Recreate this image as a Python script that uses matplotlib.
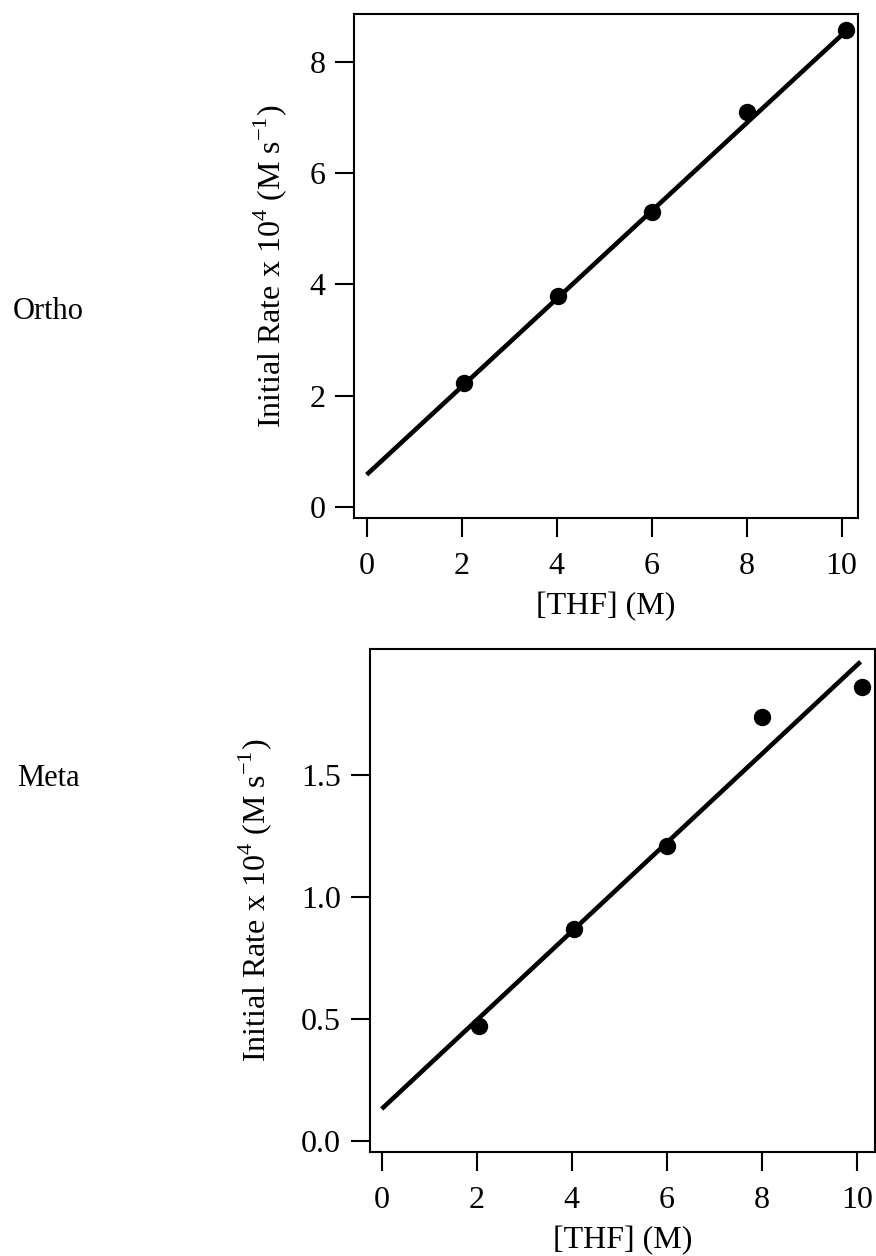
import numpy as np
import matplotlib
matplotlib.use("Agg")
import matplotlib.pyplot as plt

# data
thf = [2.05, 4.03, 6.0, 8.0, 10.1]
ortho_rate = [2.22, 3.80, 5.30, 7.10, 8.58]
meta_thf = [2.05, 4.05, 6.0, 8.01, 10.12]
meta_rate = [0.47, 0.87, 1.21, 1.74, 1.86]

# fitted lines (intercept, slope, x-range) as drawn
ortho_fit = (0.58, 0.79, [0.0, 10.1])
meta_fit = (0.13, 0.182, [0.0, 10.08])

plt.rcParams['font.family'] = ['Liberation Serif', 'DejaVu Serif']
plt.rcParams['mathtext.fontset'] = 'custom'
plt.rcParams['mathtext.rm'] = 'Liberation Serif'
plt.rcParams['font.size'] = 23

fig = plt.figure(figsize=(8.76, 12.56), dpi=100)

ylab = r'Initial Rate x 10$^\mathregular{4}$ (M s$^\mathregular{-1}$)'

def panel(rect, x, y, fit, xlim, ylim, yticks, yfmt, name, name_y, ylab_x):
    ax = fig.add_axes(rect)
    ax.plot(x, y, 'o', color='black', markersize=11.5, zorder=3)
    b, m, xr = fit
    xr = np.array(xr)
    ax.plot(xr, b + m * xr, '-', color='black', lw=3.3, solid_capstyle='butt')
    ax.set_xlim(*xlim)
    ax.set_ylim(*ylim)
    ax.set_xticks([0, 2, 4, 6, 8, 10])
    ax.set_yticks(yticks)
    ax.set_yticklabels([yfmt % v for v in yticks])
    for s in ax.spines.values():
        s.set_linewidth(1.5)
    ax.tick_params(direction='out', length=13.5, width=1.5, pad=7)
    ax.tick_params(axis='x', pad=11)
    ax.set_xlabel('[THF] (M)', labelpad=8)
    ax.set_ylabel(ylab, va='center')
    ax.yaxis.set_label_coords(ylab_x, 0.5)
    fig.text(48 / 876, name_y, name, ha='center', va='center', fontsize=22)
    return ax

panel([0.4041, 0.5876, 0.5757, 0.4013], thf, ortho_rate, ortho_fit,
      (-0.267, 10.35), (-0.198, 8.86), [0, 2, 4, 6, 8], '%d', 'Ortho',
      1 - 312 / 1256, (270 - 354) / 504.3)
panel([0.4220, 0.0826, 0.5769, 0.4005], meta_thf, meta_rate, meta_fit,
      (-0.253, 10.385), (-0.0476, 2.016), [0.0, 0.5, 1.0, 1.5], '%.1f', 'Meta',
      1 - 778 / 1256, (255 - 369.7) / 505.3)

fig.savefig('out.png', dpi=100)
